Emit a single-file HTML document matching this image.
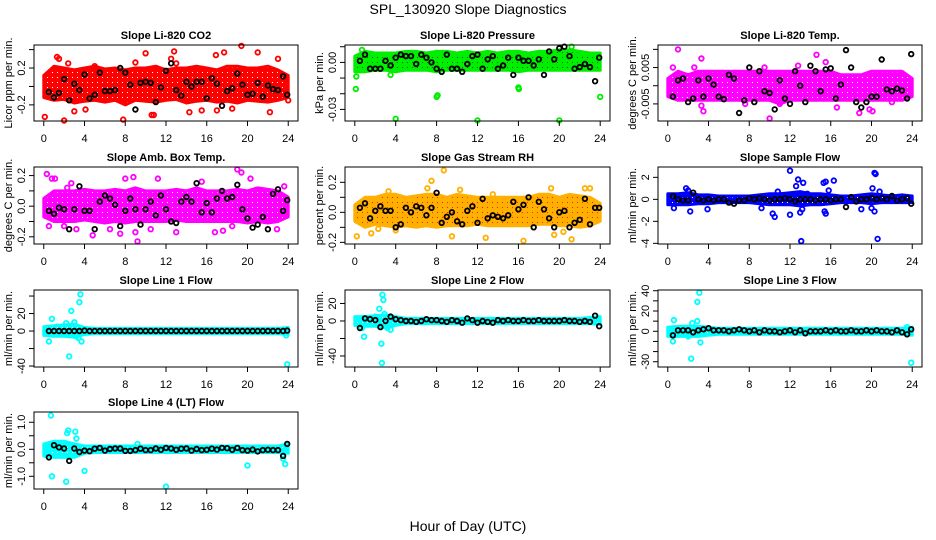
<!DOCTYPE html>
<html><head><meta charset="utf-8">
<style>
html,body{margin:0;padding:0;background:#fff;}
svg{display:block;font-family:"Liberation Sans",sans-serif;}
</style></head>
<body>
<svg id="chart" width="936" height="540" viewBox="0 0 936 540" xmlns="http://www.w3.org/2000/svg">
<defs id="defs"></defs>
<text x="468" y="14" font-size="14" text-anchor="middle">SPL_130920  Slope Diagnostics</text>
<text x="468" y="531" font-size="14" text-anchor="middle">Hour of Day (UTC)</text>
<g id="panels"></g>
</svg>
<script>
const bandHours=[0,1,2,3,4,5,6,7,8,9,10,11,12,13,14,15,16,17,18,19,20,21,22,23,24];
const blackHours=[0.5,1,1.5,2,2.5,3,3.5,4,4.5,5,5.5,6,6.5,7,7.5,8,8.5,9,9.5,10,10.5,11,11.5,12,12.5,13,13.5,14,14.5,15,15.5,16,16.5,17,17.5,18,18.5,19,19.5,20,20.5,21,21.5,22,22.5,23,23.5,23.9];
const xTicks=[0,4,8,12,16,20,24];

const co2Lo=[-0.12,-0.15,-0.14,-0.18,-0.16,-0.15,-0.17,-0.15,-0.2,-0.15,-0.16,-0.17,-0.15,-0.14,-0.18,-0.16,-0.15,-0.17,-0.16,-0.18,-0.15,-0.16,-0.17,-0.15,-0.12];
const co2Hi=[0.12,0.22,0.2,0.18,0.2,0.22,0.19,0.2,0.18,0.2,0.2,0.22,0.18,0.2,0.2,0.22,0.2,0.18,0.22,0.22,0.2,0.2,0.22,0.18,0.12];
const co2OutX=[0.1,2,1.3,1.5,7.8,10,12.8,13,12.5,19.4,17.7,21,23,22.2,24,10.6,10.8,15.5,17,18.5,3,4.1,14.3,16.9,9,2.4,5];
const co2OutY=[-0.33,-0.37,0.32,0.3,-0.36,0.36,0.38,0.25,0.3,0.44,0.37,0.37,0.3,-0.28,-0.15,-0.31,-0.31,-0.26,-0.26,-0.24,-0.27,-0.25,-0.28,0.34,0.26,0.25,0.22];
const co2Black=[-0.06,-0.12,-0.07,0.08,-0.15,0.03,-0.04,0.13,-0.13,-0.09,0.15,-0.05,-0.05,-0.04,0.2,0.15,0.02,-0.25,0.04,0.05,0.04,-0.17,-0.01,0.17,0.25,-0.04,-0.1,0.05,0,0.05,0.05,-0.13,0.09,0.03,-0.21,-0.05,-0.02,0.14,0.02,-0.09,-0.08,0.04,-0.11,0.01,-0.03,-0.04,0.11,-0.09];

const presLo=[-0.006,-0.006,-0.005,-0.005,-0.006,-0.005,-0.005,-0.005,-0.006,-0.005,-0.005,-0.005,-0.005,-0.005,-0.005,-0.005,-0.006,-0.005,-0.005,-0.005,-0.005,-0.005,-0.005,-0.005,-0.005];
const presHi=[0.004,0.007,0.006,0.006,0.006,0.007,0.007,0.006,0.007,0.007,0.006,0.007,0.006,0.007,0.006,0.007,0.007,0.006,0.007,0.007,0.008,0.008,0.007,0.006,0.006];
const presOutX=[0.1,0.15,0.5,4,8,8.1,12,16,16.05,20,24,3.5,21.2,0.7];
const presOutY=[-0.017,-0.009,-0.005,-0.036,-0.022,-0.021,-0.037,-0.016,-0.017,-0.037,-0.022,-0.008,0.01,0.008];
const presBlack=[0.001,0.005,-0.004,-0.004,-0.004,0.001,-0.002,0.003,0.005,0.004,0.004,-0.001,0.005,0.003,0,-0.004,-0.006,0.005,-0.004,-0.004,-0.006,-0.001,0.004,0.005,-0.004,0.002,0.004,-0.004,-0.002,0.003,-0.008,0.003,0.001,0.001,-0.002,0.002,-0.008,0.007,0.002,0.009,0.010,0.004,-0.004,-0.003,-0.001,-0.003,-0.012,0.003];

const tempLo=[-0.003,-0.004,-0.004,-0.004,-0.004,-0.004,-0.004,-0.004,-0.004,-0.004,-0.004,-0.005,-0.004,-0.004,-0.004,-0.004,-0.004,-0.004,-0.004,-0.004,-0.004,-0.004,-0.004,-0.004,-0.003];
const tempHi=[0.002,0.004,0.003,0.004,0.004,0.004,0.004,0.004,0.004,0.004,0.004,0.004,0.004,0.004,0.004,0.004,0.004,0.003,0.003,0.003,0.004,0.004,0.004,0.004,0.002];
const tempOutX=[1,0.5,3.3,3.3,3.5,10,14.6,16.6,18.8,19.8,20.1,22,7.6,11,9.5,12.8,15.5,2.6,1.3];
const tempOutY=[0.01,0.005,0.0075,-0.0055,-0.007,-0.009,0.0085,-0.006,-0.0075,-0.0065,-0.007,-0.0045,-0.005,-0.005,0.005,0.0055,0.0065,0.005,-0.002];
const tempBlack=[-0.003,0.0015,0.002,-0.0045,-0.0035,0.0015,-0.003,0.002,0.0003,-0.003,-0.0037,0.003,0.002,-0.0075,-0.004,0.005,-0.0045,0.004,-0.0015,-0.002,-0.0065,0.0015,-0.0035,-0.005,0.004,0,-0.0045,0.0055,0.004,-0.0015,0.0045,0.0048,-0.0035,0.0003,0.0098,0.005,-0.0045,-0.006,-0.0045,-0.003,-0.003,0.0072,-0.001,-0.0015,-0.0008,-0.0013,-0.0035,0.0087];

const ambLo=[-0.07,-0.1,-0.1,-0.1,-0.09,-0.1,-0.11,-0.1,-0.11,-0.1,-0.1,-0.1,-0.1,-0.09,-0.1,-0.1,-0.1,-0.1,-0.1,-0.1,-0.11,-0.1,-0.11,-0.1,-0.07];
const ambHi=[0.05,0.1,0.1,0.1,0.11,0.1,0.1,0.11,0.1,0.12,0.1,0.1,0.1,0.11,0.1,0.12,0.1,0.1,0.1,0.11,0.1,0.12,0.11,0.1,0.06];
const ambOutX=[0.3,0.8,1.1,2,2.7,0.5,4.8,6.5,7.5,8,8.8,9,9.2,10.5,11.2,13,15.5,16.8,18.5,19,19.4,20.3,17.6,22.9,23.6,3.2,2.3];
const ambOutY=[0.21,0.18,0.18,-0.13,0.15,-0.13,-0.19,-0.15,-0.18,0.18,0.19,-0.17,-0.23,-0.15,0.18,-0.17,0.16,-0.17,-0.13,0.24,0.22,0.18,-0.16,-0.15,0.13,-0.15,0.12];
const ambBlack=[-0.03,-0.05,-0.01,-0.02,-0.15,-0.02,0.13,-0.03,-0.03,-0.15,0.03,0.07,0.05,0.01,-0.13,-0.03,0.05,-0.02,-0.12,-0.02,0.03,-0.06,0.07,-0.02,-0.1,-0.11,0.03,0.06,0.03,0.15,-0.04,0.02,-0.04,0.05,0.1,0.05,0.06,0.14,-0.02,-0.08,-0.14,-0.12,-0.07,-0.15,0.08,0.11,-0.03,0.04];

const rhLo=[-0.06,-0.1,-0.08,-0.09,-0.1,-0.09,-0.1,-0.09,-0.1,-0.09,-0.09,-0.09,-0.08,-0.09,-0.09,-0.09,-0.09,-0.09,-0.08,-0.08,-0.09,-0.09,-0.1,-0.09,-0.06];
const rhHi=[0.05,0.1,0.1,0.12,0.12,0.1,0.11,0.12,0.12,0.1,0.12,0.11,0.1,0.1,0.1,0.1,0.1,0.1,0.12,0.12,0.1,0.12,0.11,0.1,0.06];
const rhOutX=[0.2,1.6,2.3,7.1,7.5,8.7,9.5,12.8,13.5,16.5,19.2,19.5,20.4,21.2,22.5,23,10.3,3.3,4];
const rhOutY=[-0.16,-0.14,-0.11,0.16,0.21,0.28,-0.16,-0.17,0.12,-0.19,0.16,-0.15,-0.13,-0.18,0.16,0.16,0.15,0.14,-0.12];
const rhBlack=[0.03,0.06,-0.04,0.01,0.04,0.01,0.01,-0.1,-0.08,0.03,0,0.04,0.03,-0.02,0.03,0.13,-0.07,-0.03,0,-0.06,-0.08,0.01,0.04,-0.07,0.09,-0.04,-0.02,-0.03,-0.04,-0.02,0.07,0.02,0.05,0.1,-0.1,0.07,0.02,-0.04,-0.1,0,0.01,-0.1,-0.07,-0.05,0.09,-0.08,0.03,0.03];

const flowLo=[-0.5,-0.5,-0.5,-0.4,-0.4,-0.3,-0.3,-0.3,-0.3,-0.4,-0.5,-0.5,-0.5,-0.6,-0.5,-0.5,-0.4,-0.3,-0.3,-0.3,-0.4,-0.3,-0.3,-0.3,-0.3];
const flowHi=[0.5,0.5,0.6,0.4,0.4,0.3,0.3,0.3,0.3,0.4,0.5,0.5,0.6,0.7,0.5,0.5,0.4,0.3,0.3,0.4,0.5,0.4,0.3,0.4,0.3];
const flowOutX=[1.8,2,2.2,3.9,0.6,9.2,10.3,10.5,10.8,12,12,12.8,12.6,13.3,13,13.1,13.2,15.3,15.5,15.4,15.5,16.3,15.8,20.4,20.3,20.1,20,20.3,20.6,19,20.8,13.7];
const flowOutY=[1,0.8,-1.1,-0.9,-0.8,-0.8,-1.3,-1.6,0.7,2.6,-1.4,1.8,1.2,1.5,-1.2,-3.8,-0.9,1.5,1.6,-1.1,-1.3,1.7,0.8,2.3,2.4,1,-0.8,-1.1,-3.6,-0.9,0.7,0.5];
const flowBlack=[0.3,0,-0.1,-0.1,0.6,0,-0.1,0,-0.1,0,0,-0.3,-0.4,-0.1,-0.1,0.1,0,0.1,0,-0.1,0,0,0.1,0,-0.2,0,0,0,-0.1,0,0,-0.1,0,0,-0.7,0.2,-0.2,0,0,0.1,0,0.1,0,0.3,-0.1,0,0.1,-0.4];

const l1Lo=[-5,-6,-6,-7,-4,-3,-3,-3,-3,-3,-3,-3,-3,-3,-3,-3,-3,-3,-3,-3,-3,-3,-3,-3,-4];
const l1Hi=[5,6,7,8,4,3,3,3,3,3,3,3,3,3,3,3,3,3,3,3,3,3,3,3,4];
const l1OutX=[0.5,0.8,1.3,2.2,2.5,2.7,3,3.5,3.6,3.7,3.4,3.2,23.8,23.9];
const l1OutY=[-12,14,5,9,-29,23,10,33,42,-12,-8,-6,-5,-38];
const l1Black=[0,0,0,0,0,0,0,0.5,0,0,0,0,0,0,0,0,0,0,0,0,0,0,0,0,0,0,0,0,0,0,0,0,0,0,0,0,0,0,0,0,0,0,0,0,0,0,0,0.5];

const l2Lo=[-5,-6,-6,-8,-5,-3,-3,-3,-3,-3,-3,-3,-3,-3,-3,-3,-3,-3,-3,-3,-3,-3,-3,-3,-4];
const l2Hi=[5,5,6,7,5,3,3,3,3,3,3,3,3,3,3,3,3,3,3,3,3,3,3,4,5];
const l2OutX=[0.7,0.9,2.4,2.6,2.7,2.8,2.9,2.65,3.2,3.5,2];
const l2OutY=[-8,-18,14,-26,30,24,8,-48,-8,-10,5];
const l2Black=[-8,3,2,1,-7,0,5,2,1,0,0,-1,0,2,1,1,0,-1,1,0,-2,3,1,-2,0,-1,-2,1,0,1,0,0,1,0,0,1,0,0,0,0,1,0,0,-1,0,-1,6,-6];

const l3Lo=[-5,-5,-5,-5,-4,-3,-3,-3,-3,-3,-3,-3,-3,-3,-3,-3,-3,-3,-3,-3,-3,-3,-3,-3,-4];
const l3Hi=[4,5,5,5,4,3,3,3,3,3,3,3,3,3,3,3,3,3,3,3,3,3,3,3,4];
const l3OutX=[0.5,0.6,2.3,2.9,2.9,3.1,3.2,2,2.4,23.9,23.5];
const l3OutY=[-10,11,-27,10,29,38,-11,-5,8,-31,4];
const l3Black=[-4,1,1,1,-1,1,2,3,1,1,1,0,1,2,1,0,1,-1,1,0,0,-1,0,1,-1,1,-2,0,0,0,1,0,1,0,0,1,0,0,1,0,1,0,0,-1,1,-1,-3,2];

const l4Lo=[-0.25,-0.3,-0.3,-0.3,-0.15,-0.12,-0.12,-0.12,-0.12,-0.12,-0.12,-0.12,-0.12,-0.12,-0.12,-0.12,-0.12,-0.12,-0.12,-0.12,-0.12,-0.12,-0.12,-0.12,-0.15];
const l4Hi=[0.2,0.3,0.3,0.2,0.12,0.12,0.12,0.12,0.12,0.12,0.12,0.12,0.12,0.12,0.12,0.12,0.12,0.12,0.12,0.12,0.12,0.12,0.12,0.12,0.2];
const l4OutX=[0.7,0.8,2.2,2.4,2.3,3.1,3.2,4,12,20,23.7,23.5,9.2,0.2,0.5];
const l4OutY=[1.25,-1.0,-1.2,0.7,0.6,0.65,0.4,-0.8,-1.38,-0.6,-0.55,-0.35,0.2,-0.2,0.15];
const l4Black=[-0.3,0.15,0.07,0.03,-0.43,0.03,-0.1,-0.05,-0.07,0.02,0.05,-0.05,0.01,0.03,0.03,-0.06,-0.06,-0.03,0.02,-0.03,-0.03,0.03,-0.02,0.05,0.03,-0.02,0.02,0.03,-0.05,0.01,-0.03,-0.02,0.02,-0.01,0.05,0.04,-0.02,0.05,-0.03,-0.05,-0.01,-0.08,-0.03,-0.02,-0.03,-0.03,-0.25,0.2];

const cols=[[34,298],[345,610],[658,922]];
const rows=[[45,121],[167,244],[290,367],[412,489]];
const NS="http://www.w3.org/2000/svg";
const root=document.getElementById('panels');
const defs=document.getElementById('defs');
function mk(tag,attrs,parent){const e=document.createElementNS(NS,tag);for(const k in attrs)e.setAttribute(k,attrs[k]);(parent||root).appendChild(e);return e;}

const panels=[
 {title:"Slope Li-820 CO2",ylab:"Licor ppm per min.",c:0,r:0,ymin:-0.375,ymax:0.45,ticks:[0.4,0.2,0,-0.2],labels:["","0.2","","-0.2"],color:"#ff0000",dot:"#ffffff",lo:co2Lo,hi:co2Hi,ox:co2OutX,oy:co2OutY,bk:co2Black,key:"co2"},
 {title:"Slope Li-820 Pressure",ylab:"kPa per min.",c:1,r:0,ymin:-0.0374,ymax:0.0111,ticks:[0.01,0,-0.01,-0.02,-0.03],labels:["","0.00","","","-0.03"],color:"#00ee00",dot:"#006600",lo:presLo,hi:presHi,ox:presOutX,oy:presOutY,bk:presBlack,key:"pressure"},
 {title:"Slope Li-820 Temp.",ylab:"degrees C per min.",c:2,r:0,ymin:-0.0097,ymax:0.0112,ticks:[0.01,0.005,0,-0.005],labels:["","0.005","","-0.005"],color:"#ff00ff",dot:"#ffffff",lo:tempLo,hi:tempHi,ox:tempOutX,oy:tempOutY,bk:tempBlack,key:"temp"},
 {title:"Slope Amb. Box Temp.",ylab:"degrees C per min.",c:0,r:1,ymin:-0.247,ymax:0.256,ticks:[0.2,0.1,0,-0.1,-0.2],labels:["0.2","","0.0","","-0.2"],color:"#ff00ff",dot:"#ffffff",lo:ambLo,hi:ambHi,ox:ambOutX,oy:ambOutY,bk:ambBlack,key:"amb-temp"},
 {title:"Slope Gas Stream RH",ylab:"percent per min.",c:1,r:1,ymin:-0.211,ymax:0.302,ticks:[0.2,0.1,0,-0.1,-0.2],labels:["0.2","","0.0","","-0.2"],color:"#ffb000",dot:"#ff2000",lo:rhLo,hi:rhHi,ox:rhOutX,oy:rhOutY,bk:rhBlack,key:"rh"},
 {title:"Slope Sample Flow",ylab:"ml/min per min.",c:2,r:1,ymin:-4.06,ymax:2.94,ticks:[2,0,-2,-4],labels:["2","0","-2","-4"],color:"#0000ff",dot:"#ffffff",lo:flowLo,hi:flowHi,ox:flowOutX,oy:flowOutY,bk:flowBlack,key:"sample-flow"},
 {title:"Slope Line 1 Flow",ylab:"ml/min per min.",c:0,r:2,ymin:-41.1,ymax:46.9,ticks:[40,20,0,-20,-40],labels:["","20","0","","-40"],color:"#00ffff",dot:"#ffffff",lo:l1Lo,hi:l1Hi,ox:l1OutX,oy:l1OutY,bk:l1Black,key:"line1"},
 {title:"Slope Line 2 Flow",ylab:"ml/min per min.",c:1,r:2,ymin:-52.6,ymax:35.4,ticks:[20,0,-20,-40],labels:["20","0","","-40"],color:"#00ffff",dot:"#ffffff",lo:l2Lo,hi:l2Hi,ox:l2OutX,oy:l2OutY,bk:l2Black,key:"line2"},
 {title:"Slope Line 3 Flow",ylab:"ml/min per min.",c:2,r:2,ymin:-35.2,ymax:40.7,ticks:[40,30,20,10,0,-10,-20,-30],labels:["40","","20","","0","","","-30"],color:"#00ffff",dot:"#ffffff",lo:l3Lo,hi:l3Hi,ox:l3OutX,oy:l3OutY,bk:l3Black,key:"line3"},
 {title:"Slope Line 4 (LT) Flow",ylab:"ml/min per min.",c:0,r:3,ymin:-1.47,ymax:1.38,ticks:[1,0.5,0,-0.5,-1],labels:["1.0","","0.0","","-1.0"],color:"#00ffff",dot:"#ffffff",lo:l4Lo,hi:l4Hi,ox:l4OutX,oy:l4OutY,bk:l4Black,key:"line4"}
];

panels.forEach(p=>{
 const L=cols[p.c][0],R=cols[p.c][1],T=rows[p.r][0],B=rows[p.r][1];
 const w=R-L;
 const xs=h=>L+w*0.037+(h/24)*w*0.926;
 const ys=v=>B-(v-p.ymin)/(p.ymax-p.ymin)*(B-T);
 // texture pattern
 const pat=mk('pattern',{id:'pat-'+p.key,width:5,height:5,patternUnits:'userSpaceOnUse'},defs);
 mk('rect',{x:0,y:0,width:5,height:5,fill:p.color},pat);
 mk('rect',{x:2,y:2,width:1,height:1,fill:p.dot},pat);
 const g=mk('g',{});
 
 
 const t=mk('text',{x:(L+R)/2,y:T-6,'font-size':11,'font-weight':'bold','text-anchor':'middle'},g);
 t.textContent=p.title;
 
 
 let pts=bandHours.map((h,i)=>xs(h).toFixed(1)+','+ys(p.hi[i]).toFixed(1));
 for(let i=bandHours.length-1;i>=0;i--)pts.push(xs(bandHours[i]).toFixed(1)+','+ys(p.lo[i]).toFixed(1));
 const band=mk('polygon',{points:pts.join(' '),fill:'url(#pat-'+p.key+')',stroke:p.color,'stroke-width':3,'stroke-linejoin':'round'},g);
 
 
 p.ox.forEach((h,i)=>{
  const c=mk('circle',{cx:xs(h).toFixed(1),cy:ys(p.oy[i]).toFixed(1),r:2.3,fill:'none',stroke:p.color,'stroke-width':1.8},g);
  
  
 });
 blackHours.forEach((h,i)=>{
  const c=mk('circle',{cx:xs(h).toFixed(1),cy:ys(p.bk[i]).toFixed(1),r:2.3,fill:'none',stroke:'#000','stroke-width':1.8},g);
  
  
 });
 const box=mk('rect',{x:L,y:T,width:w,height:B-T,fill:'none',stroke:'#000','stroke-width':1},g);
 
 
 xTicks.forEach(h=>{
  const x=xs(h);
  mk('line',{x1:x,x2:x,y1:B,y2:B+5,stroke:'#000'},g);
  const tl=mk('text',{x:x,y:B+21,'font-size':11,'text-anchor':'middle'},g);
  tl.textContent=h;
  
  
 });
 p.ticks.forEach((v,i)=>{
  const y=ys(v);
  mk('line',{x1:L-5,x2:L,y1:y,y2:y,stroke:'#000'},g);
  if(p.labels[i]){
   const tl=mk('text',{x:L-9,y:y,'font-size':11,'text-anchor':'middle',transform:'rotate(-90 '+(L-9)+' '+y+')'},g);
   tl.textContent=p.labels[i];
   
   
  }
 });
 const yt=mk('text',{x:L-22,y:(T+B)/2,'font-size':11,'text-anchor':'middle',transform:'rotate(-90 '+(L-22)+' '+((T+B)/2)+')'},g);
 yt.textContent=p.ylab;
 
 
});
</script>
</body></html>
